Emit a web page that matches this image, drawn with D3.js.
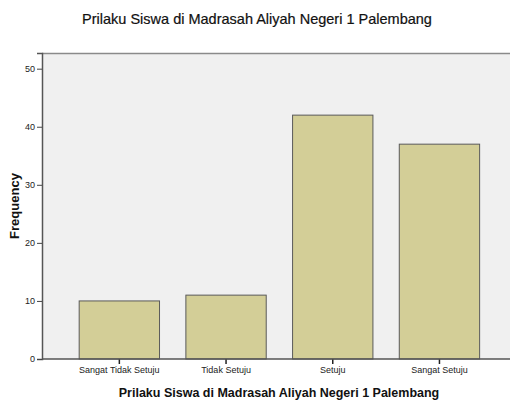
<!DOCTYPE html>
<html>
<head>
<meta charset="utf-8">
<script src="https://cdn.jsdelivr.net/npm/d3@7"></script>
<style>
  body { margin: 0; background: #fff; }
  text { font-family: "Liberation Sans", Arial, sans-serif; }
</style>
</head>
<body>
<div id="chart"></div>
<script>
// chart data
var categories = ["Sangat Tidak Setuju", "Tidak Setuju", "Setuju", "Sangat Setuju"];
var frequencies = [10, 11, 42, 37];
var yTicks = [0, 10, 20, 30, 40, 50];
var chartTitle = "Prilaku Siswa di Madrasah Aliyah Negeri 1 Palembang";
var xTitle = "Prilaku Siswa di Madrasah Aliyah Negeri 1 Palembang";
var yTitle = "Frequency";

var svgWidth = 510;
var svgHeight = 401;

var margin = {top: 53, right: 0, bottom: 42, left: 42};
var width = svgWidth - margin.left - margin.right;
var height = svgHeight - margin.top - margin.bottom;

var svg = d3.select("#chart")
  .append("svg")
  .attr("width", svgWidth)
  .attr("height", svgHeight);

var chartGroup = svg.append("g")
  .attr("transform", `translate(${margin.left}, ${margin.top})`);

// scales
var xScale = d3.scaleBand()
  .domain(categories)
  .range([24, 24 + 4 * 106.7])
  .paddingInner(0.247)
  .paddingOuter(0.1235);

var yScale = d3.scaleLinear()
  .domain([0, 52.7])
  .range([height, 0]);

// plot background
chartGroup.append("rect")
  .attr("x", 0)
  .attr("y", 0)
  .attr("width", width)
  .attr("height", height)
  .attr("fill", "#f0f0f0");

// top border line
chartGroup.append("line")
  .attr("x1", 0).attr("x2", width)
  .attr("y1", 0.5).attr("y2", 0.5)
  .attr("stroke", "#8a8a8a")
  .attr("stroke-width", 1.5);

// bars
chartGroup.selectAll("rect.bar")
  .data(frequencies)
  .enter()
  .append("rect")
  .classed("bar", true)
  .attr("x", (d, i) => xScale(categories[i]))
  .attr("y", d => yScale(d))
  .attr("width", xScale.bandwidth())
  .attr("height", d => height - yScale(d))
  .attr("fill", "#d3ce97")
  .attr("stroke", "#5a5a5a")
  .attr("stroke-width", 1);

// y axis
var leftAxis = d3.axisLeft(yScale)
  .tickValues(yTicks)
  .tickSize(5)
  .tickPadding(2);

var yAxis = chartGroup.append("g").call(leftAxis);
yAxis.select(".domain").attr("stroke", "#555").attr("stroke-width", 1.5);
yAxis.selectAll(".tick line").attr("stroke", "#444");
yAxis.selectAll("text")
  .attr("font-size", 9)
  .attr("fill", "#222")
  .style("font-family", "Liberation Sans, Arial, sans-serif");

// x axis
var bottomAxis = d3.axisBottom(xScale)
  .tickSizeOuter(0)
  .tickSize(5)
  .tickPadding(3);

var xAxis = chartGroup.append("g")
  .attr("transform", `translate(0, ${height})`)
  .call(bottomAxis);
xAxis.select(".domain").remove();
// baseline across full plot width
xAxis.append("line")
  .attr("x1", 0).attr("x2", width)
  .attr("y1", 0).attr("y2", 0)
  .attr("stroke", "#555")
  .attr("stroke-width", 1.5);
xAxis.selectAll(".tick line").attr("stroke", "#222").attr("stroke-width", 1.5);
xAxis.selectAll("text")
  .attr("font-size", 9)
  .attr("fill", "#222")
  .style("font-family", "Liberation Sans, Arial, sans-serif");

// titles
svg.append("text")
  .attr("x", 257)
  .attr("y", 24)
  .attr("text-anchor", "middle")
  .attr("font-size", 14.5)
  .attr("fill", "#111")
  .attr("stroke", "#111")
  .attr("stroke-width", 0.2)
  .text(chartTitle);

svg.append("text")
  .attr("x", 279)
  .attr("y", 397)
  .attr("text-anchor", "middle")
  .attr("font-size", 12.5)
  .attr("font-weight", "bold")
  .attr("fill", "#111")
  .text(xTitle);

svg.append("text")
  .attr("transform", `translate(19, ${margin.top + height / 2}) rotate(-90)`)
  .attr("text-anchor", "middle")
  .attr("font-size", 13)
  .attr("font-weight", "bold")
  .attr("fill", "#111")
  .text(yTitle);
</script>
</body>
</html>
